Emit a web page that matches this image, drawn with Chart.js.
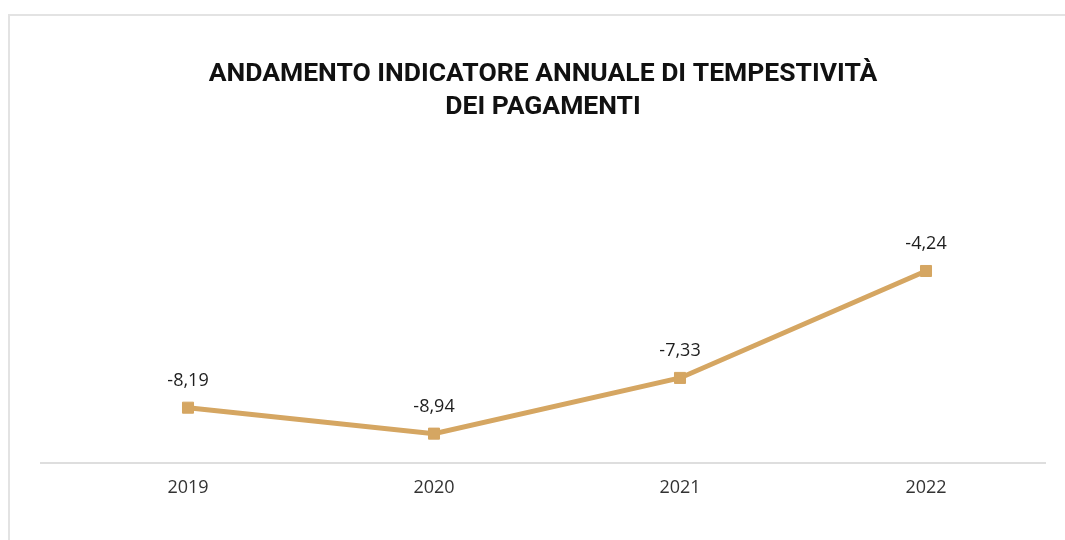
<!DOCTYPE html>
<html>
<head>
<meta charset="utf-8">
<script src="https://cdn.jsdelivr.net/npm/chart.js@4.4.0/dist/chart.umd.min.js"></script>
<style>
  html, body { margin: 0; padding: 0; background: #fff; overflow: hidden; }
  #frame { position: absolute; left: 8px; top: 14px; width: 1100px; height: 600px; border: 2px solid #e3e3e3; box-sizing: border-box; }
  #wrap { position: absolute; left: 0; top: 0; width: 1065px; height: 540px; }
</style>
</head>
<body>
<div id="frame"></div>
<div id="wrap"><canvas id="c" width="1065" height="540"></canvas></div>
<script>
const years = ['2019', '2020', '2021', '2022'];
const values = [-8.19, -8.94, -7.33, -4.24];
const titleLines = ['ANDAMENTO INDICATORE ANNUALE DI TEMPESTIVITÀ', 'DEI PAGAMENTI'];

const lineColor = '#D5A662';

const labelPlugin = {
  id: 'valueLabels',
  afterDatasetsDraw(chart) {
    const ctx = chart.ctx;
    const meta = chart.getDatasetMeta(0);
    ctx.save();
    ctx.font = '18px "Open Sans"';
    ctx.fillStyle = '#1e1e1e';
    ctx.textAlign = 'center';
    ctx.textBaseline = 'middle';
    meta.data.forEach((pt, i) => {
      const txt = values[i].toFixed(2).replace('.', ',');
      ctx.fillText(txt, pt.x, pt.y - 27);
    });
    ctx.restore();
  }
};

new Chart(document.getElementById('c'), {
  type: 'line',
  data: {
    datasets: [{
      data: values.map((v, i) => ({ x: i, y: v })),
      borderColor: lineColor,
      backgroundColor: lineColor,
      borderWidth: 5,
      pointStyle: 'rect',
      pointRadius: 7.8,
      pointBorderWidth: 1,
      pointBorderColor: lineColor,
      pointBackgroundColor: lineColor,
      tension: 0,
      fill: false
    }]
  },
  options: {
    responsive: false,
    animation: false,
    events: [],
    layout: { padding: { top: 58, left: 41, right: 20, bottom: 27 } },
    plugins: {
      legend: { display: false },
      tooltip: { enabled: false },
      title: {
        display: true,
        text: titleLines,
        color: '#111',
        font: { family: 'Roboto', weight: 'bold', size: 26.5, lineHeight: 1.25 },
        padding: { top: 0, bottom: 0 }
      }
    },
    scales: {
      x: {
        type: 'linear',
        min: -0.5976,
        max: 3.4837,
        afterBuildTicks(scale) {
          scale.ticks = years.map((y, i) => ({ value: i }));
        },
        ticks: {
          callback: (v) => years[v] !== undefined ? years[v] : '',
          color: '#333',
          font: { family: 'Open Sans', size: 18 },
          padding: 14,
          autoSkip: false,
          maxRotation: 0
        },
        grid: { display: false, drawTicks: false },
        border: { display: true, color: '#dedede', width: 2 }
      },
      y: {
        display: false,
        min: -9.8,
        max: 0
      }
    }
  },
  plugins: [labelPlugin]
});
</script>
</body>
</html>
